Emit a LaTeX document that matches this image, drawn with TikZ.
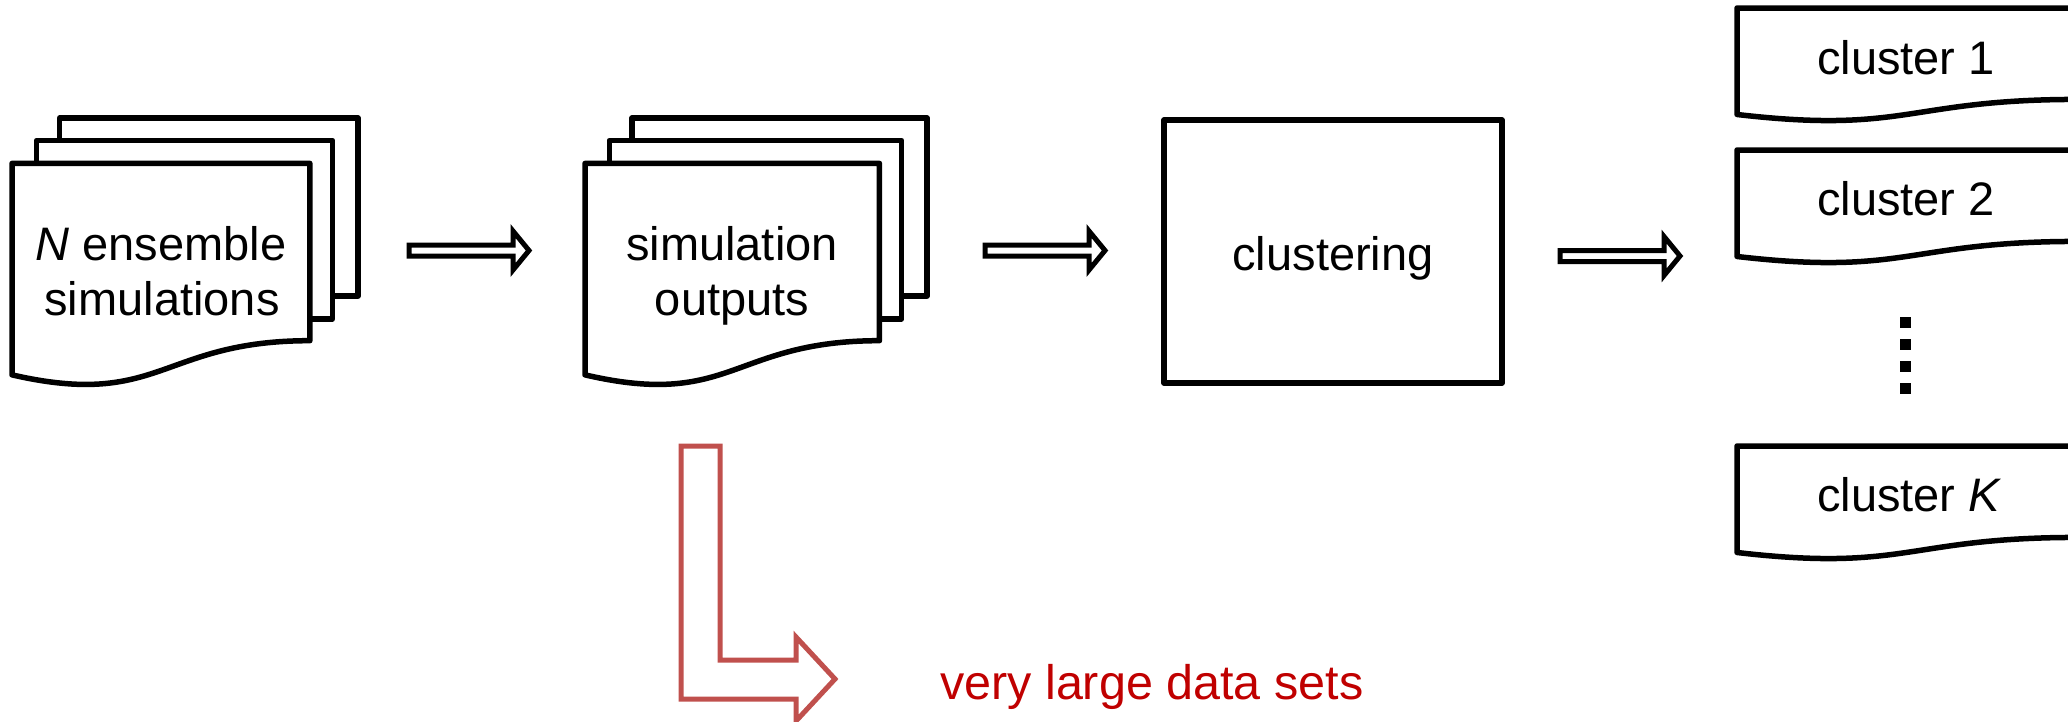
\documentclass[tikz,border=0pt]{standalone}
\usepackage{fontspec}
\setmainfont{Liberation Sans}
\definecolor{bentred}{RGB}{192,80,77}
\definecolor{notered}{RGB}{192,0,0}
\tikzset{
  outline/.style={draw=black, line width=5.5pt, line join=round, fill=white},
  blockarrow/.style={draw=black, line width=5pt, line join=miter, fill=white},
  bigbent/.style={draw=bentred, line width=5pt, line join=miter},
  lbl/.style={font=\fontsize{47}{55}\selectfont, inner sep=0pt, anchor=base},
  clbl/.style={font=\fontsize{47}{55}\selectfont, inner sep=0pt, anchor=base west},
  dotsq/.style={fill=black, draw=none},
}
% stack of three pages: name, left, top, width, height
\newcommand{\multidoc}[5]{%
  \draw[outline] ({#2+0.1376*#4},{#3}) rectangle ({#2+#4},{#3+0.666*#5});
  \draw[outline] ({#2+0.0709*#4},{#3+0.084*#5}) rectangle ({#2+0.926*#4},{#3+0.752*#5});
  \draw[outline] ({#2},{#3+0.170*#5}) -- ({#2+0.861*#4},{#3+0.170*#5})
     -- ({#2+0.861*#4},{#3+0.834*#5})
     .. controls ({#2+0.43*#4},{#3+0.834*#5}) and ({#2+0.43*#4},{#3+1.09*#5}) ..
     ({#2},{#3+0.962*#5}) -- cycle;
  \coordinate (#1) at ({#2+0.43*#4},{#3+0.5*#5});
}
% single page with a wavy lower edge, open on the right: name, left, top, width, height
\newcommand{\clusterdoc}[5]{%
  \draw[outline] ({#2+#4},{#3}) -- ({#2},{#3}) -- ({#2},{#3+0.934*#5})
     .. controls ({#2+0.5*#4},{#3+1.1075*#5}) and ({#2+0.5*#4},{#3+0.802*#5}) ..
     ({#2+#4},{#3+0.802*#5});
  \coordinate (#1) at ({#2},{#3+0.5*#5});
}
% outlined block arrow: shaft start, head base, tip, centre line
\newcommand{\flowarrow}[4]{%
  \draw[blockarrow] (#1,{#4-5.5}) -- (#2,{#4-5.5}) -- (#2,{#4-19.5}) -- (#3,#4)
     -- (#2,{#4+19.5}) -- (#2,{#4+5.5}) -- (#1,{#4+5.5}) -- cycle;
}
\begin{document}
\begin{tikzpicture}[x=1pt, y=-1pt]
\useasboundingbox (0,0) rectangle (2068,721);
\begin{scope}
\clip (0,0) rectangle (2068,721);

% input ensemble
\multidoc{ens}{12}{118}{346}{267}
\node[lbl] (ens1) at (161,260) {\textit{N} ensemble};
\node[lbl] (ens2) at (162,315) {simulations};

% outputs
\multidoc{outp}{585}{118}{342}{267}
\node[lbl] (out1) at (732,260) {simulation};
\node[lbl] (out2) at (732,315) {outputs};

% clustering step
\node[draw=black, line width=5.5pt, line join=round, minimum width=338pt, minimum height=263pt, inner sep=0pt] (clu) at (1333,251.5) {};
\node[lbl] (clutext) at (clu.center |- 0,270) {clustering};

% resulting clusters
\clusterdoc{c1}{1737}{8}{340}{114}
\clusterdoc{c2}{1737}{150}{340}{114}
\clusterdoc{cK}{1737}{446}{340}{114}
\node[clbl] (c1t) at (1817,74) {cluster 1};
\node[clbl] (c2t) at (1817,215) {cluster 2};
\node[clbl] (cKt) at (1817,511) {cluster \textit{K}};
\foreach \yy in {322,344,366,388}
  \fill[dotsq] (1899.5,{\yy-5.5}) rectangle (1910.5,{\yy+5.5});

% flow arrows
\flowarrow{409}{513}{529}{250.5}
\flowarrow{985}{1089}{1105}{250.5}
\flowarrow{1560}{1664}{1680}{256}

% bent arrow to the note
\draw[bigbent] (681,446) -- (720,446) -- (720,660) -- (796,660) -- (796,637)
  -- (835,679) -- (796,721) -- (796,699) -- (681,699) -- cycle;
\node[font=\fontsize{48.5}{55}\selectfont, text=notered, inner sep=0pt, anchor=base west] (note) at (940,699) {very large data sets};
\end{scope}
\end{tikzpicture}
\end{document}
